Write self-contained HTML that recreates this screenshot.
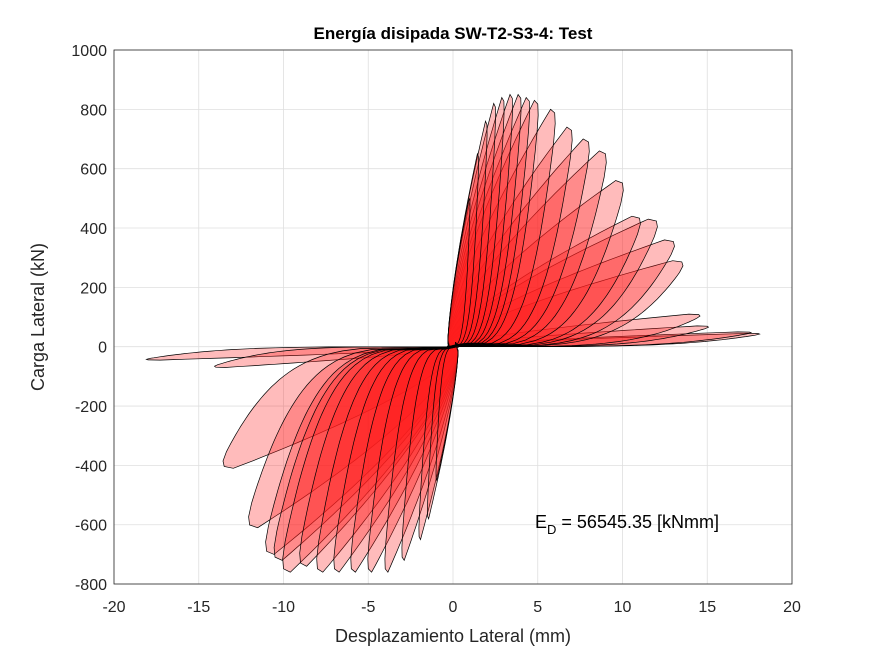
<!DOCTYPE html>
<html><head><meta charset="utf-8"><style>
body{margin:0;background:#fff;}
svg{display:block;font-family:"Liberation Sans",Arial,sans-serif;}
</style></head><body>
<svg id="chart" width="875" height="656">
<rect x="0" y="0" width="875" height="656" fill="#fff"/>
<g id="grid"></g>
<g id="loops"></g>
<rect x="114" y="50" width="678" height="534" fill="none" stroke="#262626" stroke-width="0.8"/>
<g id="ticks"></g>
<text x="453" y="39" text-anchor="middle" font-size="17" font-weight="bold" fill="#000">Energía disipada SW-T2-S3-4: Test</text>
<text x="453" y="642" text-anchor="middle" font-size="18" fill="#262626">Desplazamiento Lateral (mm)</text>
<text transform="translate(44,317) rotate(-90)" text-anchor="middle" font-size="18" fill="#262626">Carga Lateral (kN)</text>
<text x="535" y="528" font-size="18" fill="#000">E<tspan font-size="13" dy="6">D</tspan><tspan dy="-6"> = 56545.35 [kNmm]</tspan></text>
</svg>
<script>
const xTicks=[-20,-15,-10,-5,0,5,10,15,20];
const yTicks=[-800,-600,-400,-200,0,200,400,600,800,1000];
const posDisp=[1,1.5,2,2.5,3,3.5,4,4.5,5,6,7,8,9,10,11,12,13,13.5,14.5,15,17.5,18];
const posLoad=[500,650,760,820,840,850,850,840,830,800,740,700,660,560,440,430,360,290,110,70,50,45];
const negDisp=[-1,-1.5,-2,-3,-4,-5,-6,-7,-8,-9,-10,-10.5,-11,-12,-13.5,-14,-18];
const negLoad=[-450,-580,-650,-720,-760,-760,-760,-760,-760,-740,-760,-720,-700,-610,-410,-70,-45];
const X=v=>453+v*16.95;
const Y=v=>346.7-v*0.2967;
const NS='http://www.w3.org/2000/svg';
const grid=document.getElementById('grid'),ticks=document.getElementById('ticks'),loops=document.getElementById('loops');
xTicks.forEach(t=>{
 const l=document.createElementNS(NS,'line');
 l.setAttribute('x1',X(t));l.setAttribute('x2',X(t));l.setAttribute('y1',50);l.setAttribute('y2',584);
 l.setAttribute('stroke','#dfdfdf');l.setAttribute('stroke-width','0.8');
 
 
 grid.appendChild(l);
 const s=document.createElementNS(NS,'text');
 s.setAttribute('x',X(t));s.setAttribute('y',612);s.setAttribute('text-anchor','middle');s.setAttribute('font-size','16');s.setAttribute('fill','#262626');
 s.textContent=t;
 
 
 ticks.appendChild(s);
});
yTicks.forEach(t=>{
 const l=document.createElementNS(NS,'line');
 l.setAttribute('x1',114);l.setAttribute('x2',792);l.setAttribute('y1',Y(t));l.setAttribute('y2',Y(t));
 l.setAttribute('stroke','#dfdfdf');l.setAttribute('stroke-width','0.8');
 
 
 grid.appendChild(l);
 const s=document.createElementNS(NS,'text');
 s.setAttribute('x',107);s.setAttribute('y',Y(t)+6);s.setAttribute('text-anchor','end');s.setAttribute('font-size','16');s.setAttribute('fill','#262626');
 s.textContent=t;
 
 
 ticks.appendChild(s);
});
function petal(dp,Fp){
 const sg=Math.sign(dp);let pts=[];
 const x0=-0.3*sg;
 for(let i=0;i<=30;i++){const t=i/30;const x=x0+(dp*0.96-x0)*Math.pow(t,1.3);const f=Fp*(0.03+0.97*Math.pow(t,0.95));pts.push([x,f]);}
 pts.push([dp,Fp*0.985]);
 pts.push([dp*1.005,Fp*0.94]);
 for(let i=1;i<=30;i++){const s=1-i/30;const x=x0+(dp-x0)*Math.pow(s,0.25)*(0.97+0.03*s);const f=Fp*(0.9*Math.pow(s,1.2));pts.push([x,f]);}
 pts.push([x0*0.5,-Fp*0.02]);
 return pts;
}
function draw(dp,Fp,name){
 const pts=petal(dp,Fp);
 const p=document.createElementNS(NS,'path');
 p.setAttribute('d','M'+pts.map(q=>X(q[0]).toFixed(1)+','+Y(q[1]).toFixed(1)).join('L')+'Z');
 p.setAttribute('fill','rgba(255,30,30,0.3)');p.setAttribute('stroke','#000');p.setAttribute('stroke-width','0.7');
 
 
 loops.appendChild(p);
}
for(let i=posDisp.length-1;i>=0;i--)draw(posDisp[i],posLoad[i],'positive-loop');
for(let i=negDisp.length-1;i>=0;i--)draw(negDisp[i],negLoad[i],'negative-loop');
</script>
</body></html>
